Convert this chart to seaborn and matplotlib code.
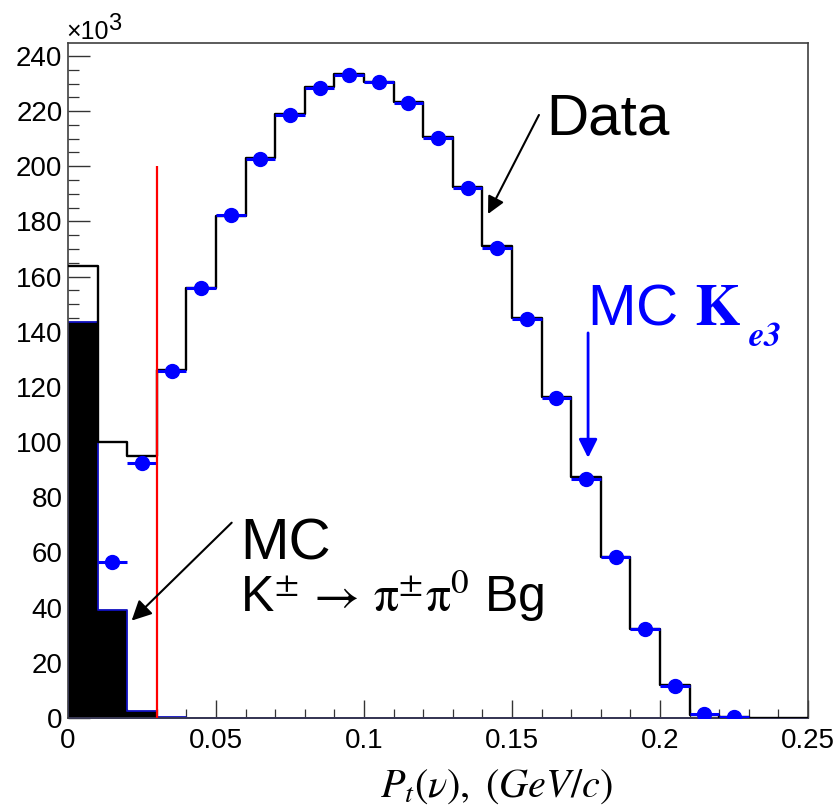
import numpy as np
import pandas as pd
import matplotlib
matplotlib.use("Agg")
import matplotlib.pyplot as plt
from matplotlib.ticker import MultipleLocator, FixedLocator, FuncFormatter
import seaborn as sns

# ---------------- data (counts in units of 10^3) ----------------
bin_edges = [0.00, 0.01, 0.02, 0.03, 0.04, 0.05, 0.06, 0.07, 0.08, 0.09,
             0.10, 0.11, 0.12, 0.13, 0.14, 0.15, 0.16, 0.17, 0.18, 0.19,
             0.20, 0.21, 0.22, 0.23, 0.24, 0.25]
bin_centers = [0.005, 0.015, 0.025, 0.035, 0.045, 0.055, 0.065, 0.075, 0.085, 0.095,
               0.105, 0.115, 0.125, 0.135, 0.145, 0.155, 0.165, 0.175, 0.185, 0.195,
               0.205, 0.215, 0.225, 0.235, 0.245]
data_counts = [164.0, 100.0, 95.0, 126.0, 156.0, 182.0, 203.0, 219.0, 228.7, 233.3,
               230.7, 223.3, 210.7, 192.5, 171.0, 145.0, 116.3, 87.3, 58.4, 32.4,
               12.0, 1.2, 0.2, 0.0, 0.0]
mc_ke3 = [np.nan, 56.5, 92.3, 125.7, 156.0, 182.4, 202.7, 218.6, 228.5, 233.0,
          230.5, 223.0, 210.3, 192.3, 170.3, 144.7, 116.0, 86.8, 58.2, 32.2,
          11.7, 1.3, 0.3, np.nan, np.nan]
mc_bkg = [143.7, 39.2, 2.6, 0.5, 0.0, 0.0, 0.0, 0.0, 0.0, 0.0,
          0.0, 0.0, 0.0, 0.0, 0.0, 0.0, 0.0, 0.0, 0.0, 0.0,
          0.0, 0.0, 0.0, 0.0, 0.0]
cut_x = 0.03
cut_top = 200
x_ticks = [0, 0.05, 0.1, 0.15, 0.2, 0.25]
y_ticks = [0, 20, 40, 60, 80, 100, 120, 140, 160, 180, 200, 220, 240]

df = pd.DataFrame({"pt": bin_centers, "data": data_counts,
                   "ke3": mc_ke3, "bkg": mc_bkg})

# ---------------- style ----------------
sns.set_theme(style="white", rc={"text.color": "black", "axes.labelcolor": "black",
                                 "xtick.color": "black", "ytick.color": "black"})
plt.rcParams["font.family"] = ["Liberation Sans", "DejaVu Sans"]
plt.rcParams["mathtext.fontset"] = "stix"

fig = plt.figure(figsize=(8.36, 8.10), dpi=100)
ax = fig.add_axes([68/836, 1-718/810, (808-68)/836, (718-42.7)/810])

# background MC (filled black, blue outline)
sns.histplot(data=df, x="pt", weights="bkg", bins=bin_edges, element="step",
             fill=True, color="black", alpha=1.0, edgecolor="#1010c0",
             linewidth=1.3, ax=ax, zorder=2)
# data histogram (black step line)
sns.histplot(data=df, x="pt", weights="data", bins=bin_edges, element="step",
             fill=False, color="black", linewidth=1.7, ax=ax, zorder=3)
# MC Ke3 points with bin-width bars
ax.errorbar(df["pt"], df["ke3"], xerr=0.005, fmt="o", color="#0000ff",
            ms=10, elinewidth=2.2, capsize=0, zorder=4)
# cut line
ax.vlines(cut_x, 0, cut_top, color="#ff0000", lw=1.6, zorder=5)

ax.set_xlim(0, 0.25)
ax.set_ylim(0, 244.8)
ax.set_xlabel("")
ax.set_ylabel("")

ax.xaxis.set_major_locator(FixedLocator(x_ticks))
ax.xaxis.set_minor_locator(MultipleLocator(0.01))
ax.yaxis.set_major_locator(FixedLocator(y_ticks))
ax.yaxis.set_minor_locator(MultipleLocator(5))
ax.xaxis.set_major_formatter(FuncFormatter(lambda v, p: "%g" % round(v, 3)))
ax.yaxis.set_major_formatter(FuncFormatter(lambda v, p: "%d" % v))

ax.tick_params(axis="x", which="major", direction="in", length=13, width=1.0,
               labelsize=20, pad=7, color="#333333", labelcolor="black",
               top=False, bottom=True)
ax.tick_params(axis="x", which="minor", direction="in", length=6.5, width=0.9,
               color="#333333", top=False, bottom=True)
ax.tick_params(axis="y", which="major", direction="in", length=16, width=1.0,
               labelsize=20, pad=4, color="#333333", labelcolor="black",
               right=False, left=True)
ax.tick_params(axis="y", which="minor", direction="in", length=8, width=0.9,
               color="#333333", right=False, left=True)
for s in ax.spines.values():
    s.set_color("#404040")
    s.set_linewidth(1.2)
    s.set_visible(True)

# exponent label
fig.text(66/836, 1-39/810, "×10", fontsize=18, ha="left", va="baseline",
         color="black")
fig.text(108/836, 1-30/810, "3", fontsize=17, ha="left", va="baseline",
         color="black")

# axis title
fig.text(496/836, 1-797/810, r"$P_t(\nu),\ (GeV/c)$", fontsize=29,
         ha="center", va="baseline", color="black")

# annotations
ax.text(0.1616, 211.4, "Data", fontsize=42, ha="left", va="baseline",
        color="black", zorder=6)
ax.annotate("", xy=(0.1419, 182.7), xytext=(0.1591, 218.6),
            arrowprops=dict(arrowstyle="-|>", mutation_scale=26, lw=1.5,
                            color="black", shrinkA=0, shrinkB=0), zorder=6)

ax.text(0.1753, 142.5, r"MC $\mathbf{K}$", fontsize=42,
        color="#0000ff", ha="left", va="baseline", zorder=6)
ax.text(0.2297, 135.0, r"$\mathbfit{e3}$", fontsize=25,
        color="#0000ff", ha="left", va="baseline", zorder=6)
ax.annotate("", xy=(0.1757, 94.3), xytext=(0.1757, 139.6),
            arrowprops=dict(arrowstyle="-|>", mutation_scale=28, lw=2.0,
                            color="#0000ff", shrinkA=0, shrinkB=0), zorder=6)

ax.text(0.0581, 57.3, "MC", fontsize=42, ha="left", va="baseline",
        color="black", zorder=6)
ax.text(0.0581, 38.3,
        r"K$^{\pm}\,\rightarrow\,\mathrm{\pi}^{\pm}\mathrm{\pi}^{0}$ Bg",
        fontsize=36, ha="left", va="baseline", color="black", zorder=6)
ax.annotate("", xy=(0.0215, 35.3), xytext=(0.0553, 70.8),
            arrowprops=dict(arrowstyle="-|>", mutation_scale=30, lw=1.5,
                            color="black", shrinkA=0, shrinkB=0), zorder=6)

fig.savefig("out.png", dpi=100)
